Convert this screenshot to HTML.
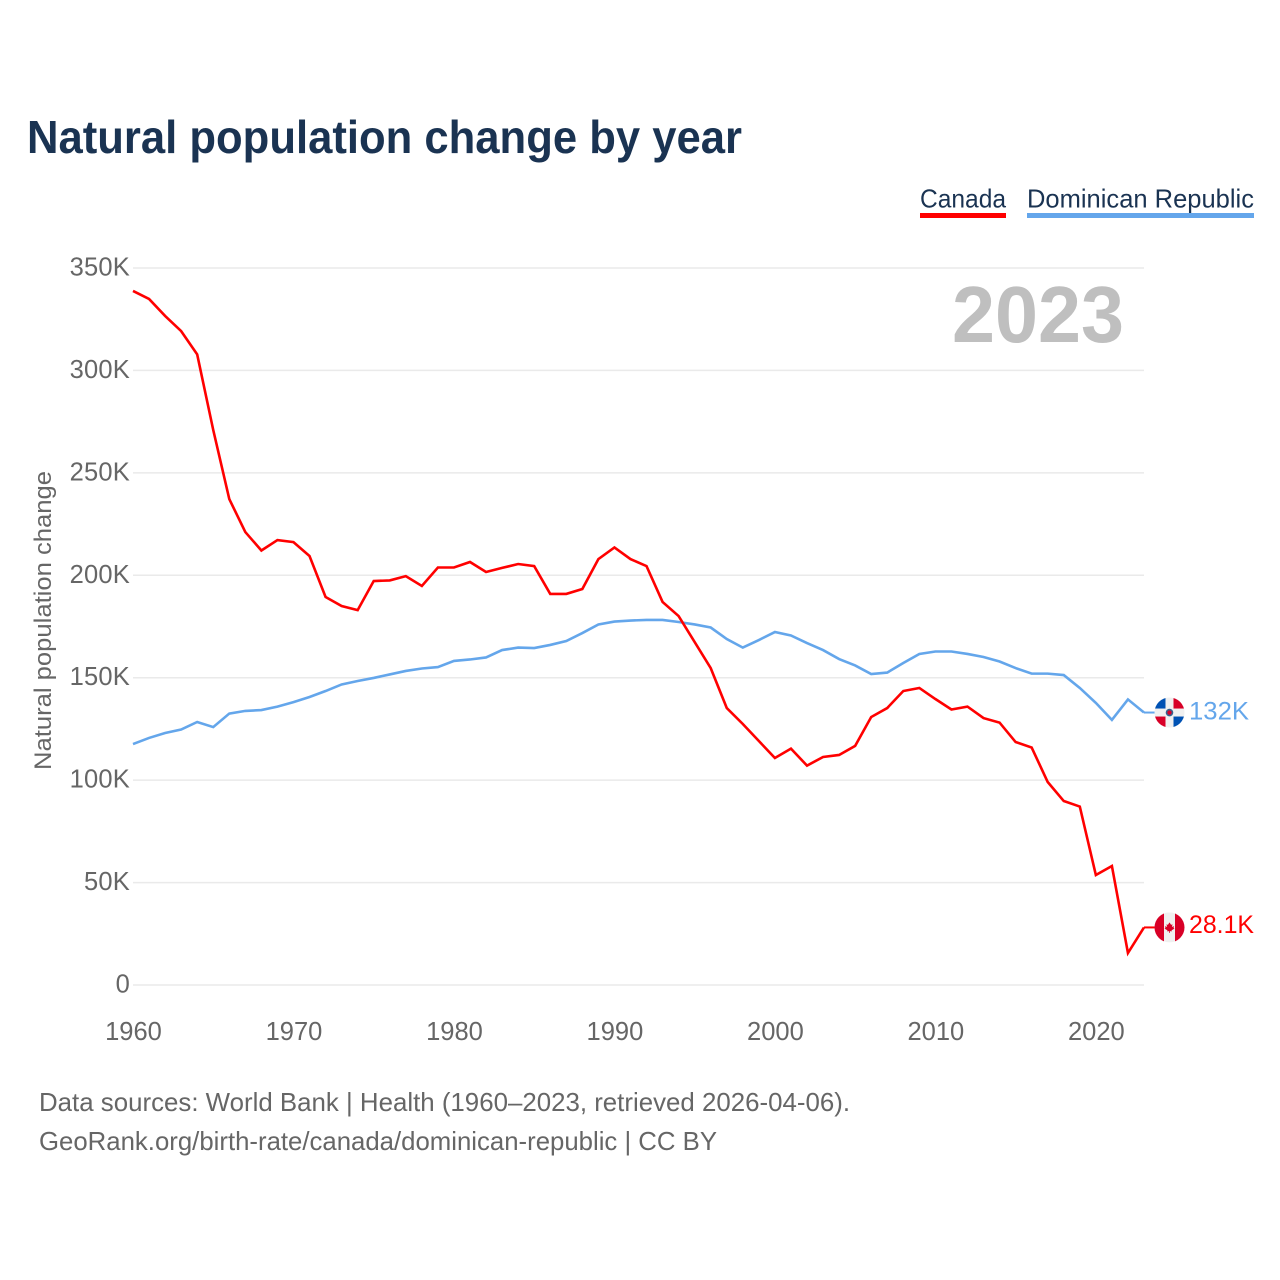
<!DOCTYPE html>
<html lang="en">
<head>
<meta charset="utf-8">
<title>Natural population change by year</title>
<style>
html,body{margin:0;padding:0;background:#fff;}
svg{display:block;font-family:"Liberation Sans",sans-serif;}
</style>
</head>
<body>
<svg id="chart" xmlns="http://www.w3.org/2000/svg" width="1280" height="1280" viewBox="0 0 1280 1280">
  <defs>
    <clipPath id="flag-clip"><circle cx="0" cy="0" r="15"/></clipPath>
  </defs>
  <rect x="0" y="0" width="1280" height="1280" fill="#ffffff"/>
  <text x="27" y="153" font-size="46" font-weight="700" fill="#1a3352" textLength="715" lengthAdjust="spacingAndGlyphs">Natural population change by year</text>

  <g>
    <g>
      <text x="920" y="207.5" font-size="26" fill="#1a3352" textLength="86" lengthAdjust="spacingAndGlyphs">Canada</text>
      <rect x="920" y="213" width="86" height="5" fill="#ff0000"/>
    </g>
    <g>
      <text x="1027" y="207.5" font-size="26" fill="#1a3352" textLength="227" lengthAdjust="spacingAndGlyphs">Dominican Republic</text>
      <rect x="1027" y="213" width="227" height="5" fill="#64a6eb"/>
    </g>
  </g>

  <g id="grid"></g>
  <g id="y-ticks"></g>
  <g id="x-ticks"></g>

  <text transform="translate(51,770) rotate(-90)" x="0" y="0" font-size="24" fill="#666666" textLength="299" lengthAdjust="spacingAndGlyphs">Natural population change</text>
  <text x="952" y="342" font-size="80" font-weight="700" fill="#bfbfbf" textLength="172" lengthAdjust="spacingAndGlyphs">2023</text>

  <g id="series"></g>

  <g id="flag-dr">
    <g clip-path="url(#flag-clip)">
      <rect x="-15" y="-15" width="30" height="30" fill="#f0f0f0"/>
      <rect x="-15" y="-15" width="11" height="11" fill="#0052b4"/>
      <rect x="4" y="-15" width="11" height="11" fill="#d80027"/>
      <rect x="-15" y="4" width="11" height="11" fill="#d80027"/>
      <rect x="4" y="4" width="11" height="11" fill="#0052b4"/>
      <circle cx="0" cy="0" r="3.8" fill="#33628f"/>
      <circle cx="0" cy="0" r="2.2" fill="#d80027"/>
    </g>
  </g>
  <g id="flag-ca">
    <g clip-path="url(#flag-clip)">
      <rect x="-15" y="-15" width="30" height="30" fill="#f0f0f0"/>
      <rect x="-15" y="-15" width="9.5" height="30" fill="#d80027"/>
      <rect x="5.5" y="-15" width="9.5" height="30" fill="#d80027"/>
      <polygon points="0,-5 1.6,-2.6 3,-3.2 2.4,-0.6 4.6,-1.2 4,0.6 5,1.2 2,3 2.4,4 0.4,3.7 0.4,5.5 -0.4,5.5 -0.4,3.7 -2.4,4 -2,3 -5,1.2 -4,0.6 -4.6,-1.2 -2.4,-0.6 -3,-3.2 -1.6,-2.6" fill="#d80027"/>
    </g>
  </g>
  <text id="label-dr" x="1189" font-size="25" fill="#64a6eb" textLength="60" lengthAdjust="spacingAndGlyphs">132K</text>
  <text id="label-ca" x="1189" font-size="25" fill="#ff0000" textLength="65" lengthAdjust="spacingAndGlyphs">28.1K</text>

  <text x="39" y="1111" font-size="26" fill="#666666" textLength="811" lengthAdjust="spacingAndGlyphs">Data sources: World Bank | Health (1960–2023, retrieved 2026-04-06).</text>
  <text x="39" y="1150" font-size="26" fill="#666666" textLength="678" lengthAdjust="spacingAndGlyphs">GeoRank.org/birth-rate/canada/dominican-republic | CC BY</text>
</svg>
<script>
const years = [1960,1961,1962,1963,1964,1965,1966,1967,1968,1969,1970,1971,1972,1973,1974,1975,1976,1977,1978,1979,1980,1981,1982,1983,1984,1985,1986,1987,1988,1989,1990,1991,1992,1993,1994,1995,1996,1997,1998,1999,2000,2001,2002,2003,2004,2005,2006,2007,2008,2009,2010,2011,2012,2013,2014,2015,2016,2017,2018,2019,2020,2021,2022,2023];
const canadaValues = [338.8,334.9,326.6,319.2,307.8,270.9,237.2,221.1,212.1,217.2,216.2,209.4,189.4,185,183,197.2,197.5,199.6,194.8,203.8,203.8,206.5,201.6,203.6,205.5,204.5,190.9,190.9,193.3,207.9,213.6,207.9,204.5,187,180.1,167.4,154.7,135.2,127.4,119.1,110.8,115.4,107.1,111.3,112.3,116.7,130.8,135.2,143.5,145,139.6,134.5,135.9,130.3,128.1,118.6,115.9,99.1,89.8,87.1,53.7,58.1,15.6,28.1];
const dominicanValues = [117.6,120.6,123,124.7,128.4,125.9,132.5,133.8,134.2,135.9,138.1,140.6,143.5,146.7,148.4,149.9,151.6,153.3,154.5,155.2,158.2,158.9,159.9,163.5,164.7,164.5,166,167.9,171.8,176,177.4,177.9,178.2,178.2,177.2,176,174.5,168.9,164.7,168.4,172.3,170.6,166.9,163.5,159.1,156,151.8,152.5,157.2,161.6,162.8,162.8,161.6,160.1,157.9,154.7,152,152,151.3,145,137.7,129.4,139.4,133];
const yTickValues = [0,50,100,150,200,250,300,350];
const yTickLabels = ["0","50K","100K","150K","200K","250K","300K","350K"];
const xTickValues = [1960,1970,1980,1990,2000,2010,2020];
const xTickLabels = ["1960","1970","1980","1990","2000","2010","2020"];

const SVG_NS = "http://www.w3.org/2000/svg";
const plotLeft = 133, plotRight = 1144, plotTop = 268, plotBottom = 985;
const yMax = 350, xMin = 1960, xMax = 2023;

function xScale(year) {
  return plotLeft + (year - xMin) / (xMax - xMin) * (plotRight - plotLeft);
}
function yScale(value) {
  return plotBottom - value / yMax * (plotBottom - plotTop);
}

const grid = document.getElementById("grid");
const yTicksGroup = document.getElementById("y-ticks");
const xTicksGroup = document.getElementById("x-ticks");
const seriesGroup = document.getElementById("series");

yTickValues.forEach(function (v, i) {
  const line = document.createElementNS(SVG_NS, "line");
  
  
  line.setAttribute("x1", plotLeft);
  line.setAttribute("x2", plotRight);
  line.setAttribute("y1", yScale(v));
  line.setAttribute("y2", yScale(v));
  line.setAttribute("stroke", "#eaeaea");
  line.setAttribute("stroke-width", "1.5");
  grid.appendChild(line);

  const label = document.createElementNS(SVG_NS, "text");
  
  
  label.setAttribute("x", 130);
  label.setAttribute("y", yScale(v) + 7.5);
  label.setAttribute("text-anchor", "end");
  label.setAttribute("font-size", "25.5");
  label.setAttribute("letter-spacing", "0.2");
  label.setAttribute("fill", "#666666");
  label.textContent = yTickLabels[i];
  yTicksGroup.appendChild(label);
});

xTickValues.forEach(function (year, i) {
  const label = document.createElementNS(SVG_NS, "text");
  
  
  label.setAttribute("x", xScale(year) + 0.5);
  label.setAttribute("y", 1040);
  label.setAttribute("text-anchor", "middle");
  label.setAttribute("font-size", "25.5");
  label.setAttribute("fill", "#666666");
  label.textContent = xTickLabels[i];
  xTicksGroup.appendChild(label);
});

function drawSeries(values, color, seriesName) {
  const d = values.map(function (v, i) {
    return (i ? "L" : "M") + xScale(years[i]).toFixed(2) + " " + yScale(v).toFixed(2);
  }).join(" ");
  const path = document.createElementNS(SVG_NS, "path");
  
  
  path.setAttribute("d", d);
  path.setAttribute("fill", "none");
  path.setAttribute("stroke", color);
  path.setAttribute("stroke-width", "2.6");
  path.setAttribute("stroke-linejoin", "miter");
  seriesGroup.appendChild(path);

  const lastY = yScale(values[values.length - 1]);
  const connector = document.createElementNS(SVG_NS, "line");
  
  
  connector.setAttribute("x1", plotRight);
  connector.setAttribute("x2", plotRight + 12);
  connector.setAttribute("y1", lastY);
  connector.setAttribute("y2", lastY);
  connector.setAttribute("stroke", color);
  connector.setAttribute("stroke-width", "2");
  seriesGroup.appendChild(connector);
  return lastY;
}

const lastDr = drawSeries(dominicanValues, "#64a6eb", "dominican-republic");
const lastCa = drawSeries(canadaValues, "#ff0000", "canada");

document.getElementById("flag-dr").setAttribute("transform", "translate(1169.5," + lastDr + ")");
document.getElementById("flag-ca").setAttribute("transform", "translate(1169.5," + lastCa + ")");
document.getElementById("label-dr").setAttribute("y", lastDr + 7);
document.getElementById("label-ca").setAttribute("y", lastCa + 5.5);
</script>
</body>
</html>
